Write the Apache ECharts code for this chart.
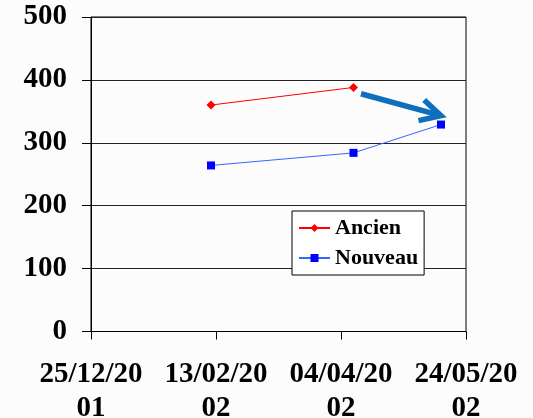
<!DOCTYPE html>
<html>
<head>
<meta charset="utf-8">
<script src="https://cdn.jsdelivr.net/npm/echarts@6/dist/echarts.min.js"></script>
<style>
html,body{margin:0;padding:0;background:#fcfcfc;}
#c{width:533px;height:418px;}
</style>
</head>
<body>
<div id="c"></div>
<script>
// ---- data ----
var axisStart = '25/12/2001';
var xTickLabels = ['25/12/2001', '13/02/2002', '04/04/2002', '24/05/2002'];
var yTickLabels = [0, 100, 200, 300, 400, 500];
var ancienDates = ['11/02/2002', '09/04/2002'];
var ancienValues = [360, 388];
var nouveauDates = ['11/02/2002', '09/04/2002', '14/05/2002'];
var nouveauValues = [264, 284, 329];
var arrowDates = ['12/04/2002', '14/05/2002'];
var arrowValues = [378, 343];

function parseD(s) {
  var p = s.split('/');
  return Date.UTC(+p[2], +p[1] - 1, +p[0]);
}
var t0 = parseD(axisStart);
function dayOff(s) { return Math.round((parseD(s) - t0) / 86400000); }
var tickDays = xTickLabels.map(dayOff);
function fmtLabel(v) {
  for (var i = 0; i < tickDays.length; i++) {
    if (Math.abs(tickDays[i] - v) < 0.5) {
      var s = xTickLabels[i];
      return s.slice(0, 8) + '\n' + s.slice(8);
    }
  }
  return '';
}

var ancien = ancienDates.map(function (d, i) { return [dayOff(d), ancienValues[i]]; });
var nouveau = nouveauDates.map(function (d, i) { return [dayOff(d), nouveauValues[i]]; });
var arrow = [[dayOff(arrowDates[0]), arrowValues[0], dayOff(arrowDates[1]), arrowValues[1]]];

var font = 'Liberation Serif';
var chart = echarts.init(document.getElementById('c'));
chart.setOption({
  backgroundColor: 'transparent',
  animation: false,
  grid: {
    left: 91, right: 67, top: 17, bottom: 86.5,
    outerBoundsMode: 'none', containLabel: false,
    show: true, borderColor: '#000', borderWidth: 1, backgroundColor: 'transparent'
  },
  legend: {
    data: ['Ancien', 'Nouveau'],
    orient: 'vertical',
    left: 292, top: 211,
    backgroundColor: '#fff',
    borderColor: '#000', borderWidth: 1, borderRadius: 0,
    padding: [5, 6, 5, 6],
    itemWidth: 31, itemHeight: 10, itemGap: 6,
    textStyle: { fontFamily: font, fontWeight: 'bold', fontSize: 22, color: '#000', lineHeight: 24, padding: [0, 0, 0, 0] }
  },
  xAxis: {
    type: 'value',
    min: tickDays[0], max: tickDays[tickDays.length - 1], interval: 50,
    axisLine: { lineStyle: { color: '#000', width: 1 } },
    axisTick: { show: true, inside: false, length: 8, lineStyle: { color: '#000' } },
    splitLine: { show: false },
    axisLabel: {
      formatter: fmtLabel, margin: 26,
      fontFamily: font, fontWeight: 'bold', fontSize: 29, lineHeight: 34, color: '#000'
    }
  },
  yAxis: {
    type: 'value',
    min: yTickLabels[0], max: yTickLabels[yTickLabels.length - 1], interval: 100,
    axisLine: { show: true, lineStyle: { color: '#000', width: 1 } },
    axisTick: { show: true, inside: false, length: 9, lineStyle: { color: '#000' } },
    splitLine: { show: true, lineStyle: { color: '#222', width: 1 } },
    axisLabel: {
      margin: 24,
      fontFamily: font, fontWeight: 'bold', fontSize: 29, color: '#000'
    }
  },
  series: [
    {
      name: 'Ancien', type: 'line', data: ancien,
      symbol: 'diamond', symbolSize: 9,
      itemStyle: { color: '#ff0000' },
      lineStyle: { color: '#ff0000', width: 1 }
    },
    {
      name: 'Nouveau', type: 'line', data: nouveau,
      symbol: 'rect', symbolSize: 8,
      itemStyle: { color: '#0000ff' },
      lineStyle: { color: '#3366ff', width: 1 }
    },
    {
      name: 'arrow', type: 'custom', data: arrow, clip: false, z: 5,
      renderItem: function (params, api) {
        var p0 = api.coord([api.value(0), api.value(1)]);
        var p1 = api.coord([api.value(2), api.value(3)]);
        var ang = Math.atan2(p1[1] - p0[1], p1[0] - p0[0]) + Math.PI;
        var L = 23, a = 0.48;
        var pa = [p1[0] + L * Math.cos(ang - a), p1[1] + L * Math.sin(ang - a)];
        var pb = [p1[0] + L * Math.cos(ang + a), p1[1] + L * Math.sin(ang + a)];
        var style = { stroke: '#0f6fbd', lineWidth: 5.5, fill: null, lineJoin: 'miter' };
        return {
          type: 'group',
          children: [
            { type: 'line', shape: { x1: p0[0], y1: p0[1], x2: p1[0] - 2 * Math.cos(ang + Math.PI), y2: p1[1] - 2 * Math.sin(ang + Math.PI) }, style: style },
            { type: 'polyline', shape: { points: [pa, p1, pb] }, style: style }
          ]
        };
      }
    }
  ]
});
</script>
</body>
</html>
